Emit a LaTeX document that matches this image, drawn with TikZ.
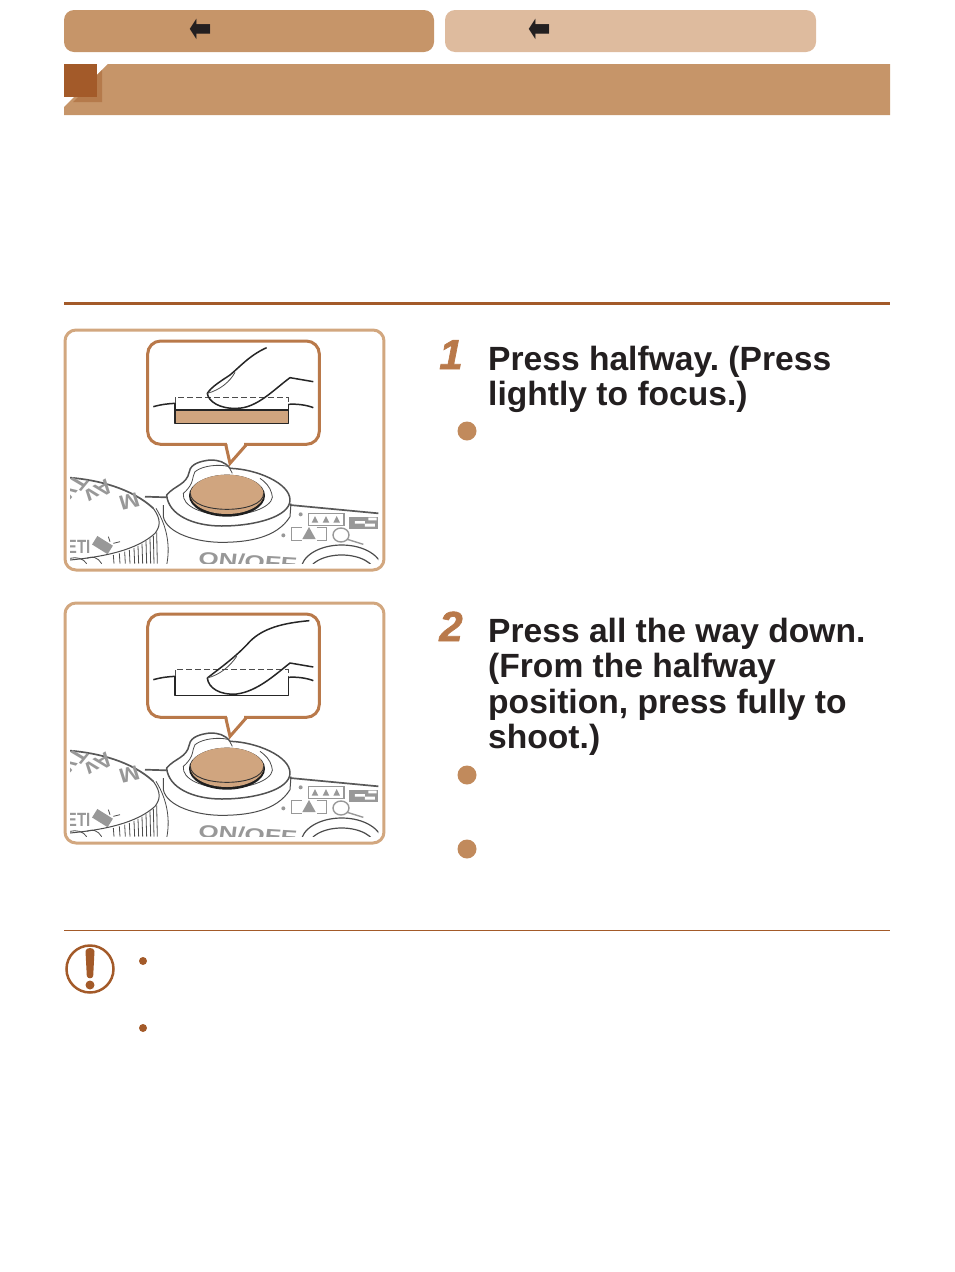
\documentclass[tikz,border=0pt]{standalone}
\usepackage{fontspec}
\setmainfont{Liberation Sans}
\newfontfamily\arrowfont{DejaVu Sans}
\newfontfamily\numfont[BoldItalicFeatures={FakeBold=1.6}]{Liberation Sans}
\definecolor{tabdark}{HTML}{C69569}
\definecolor{tablight}{HTML}{DEBB9E}
\definecolor{rust}{HTML}{A35A29}
\definecolor{shadowbrown}{HTML}{B57A4B}
\definecolor{frameline}{HTML}{D2A77F}
\definecolor{calloutline}{HTML}{B9794A}
\definecolor{buttontan}{HTML}{D0A57F}
\definecolor{bulletcol}{HTML}{C18A5C}
\definecolor{inktext}{HTML}{231F20}
\definecolor{printgray}{HTML}{989898}
\tikzset{
  tabshape/.style={rounded corners=10pt},
  backarrow/.style={text=inktext,inner sep=0pt,yscale=1.55,font=\arrowfont\fontsize{27}{27}\selectfont},
  steptitle/.style={anchor=north west,align=left,inner sep=0pt,text=inktext,
    font=\fontsize{33.6}{35.5}\selectfont\bfseries},
  stepnum/.style={anchor=base,inner sep=0pt,text=calloutline,
    font=\numfont\fontsize{42}{42}\selectfont\bfseries\itshape},
  dialtext/.style={text=printgray,inner sep=0pt,yscale=0.85,font=\fontsize{24}{24}\selectfont\bfseries},
  inkline/.style={draw=black!85,line width=1.5pt,line join=round},
  thinline/.style={draw=black!70,line width=0.8pt},
  grayline/.style={draw=black!65,line width=1.7pt},
  ringline/.style={draw=black!68,line width=1.5pt,line join=round},
  iconline/.style={draw=printgray,line width=1.4pt}
}
\begin{document}
\begin{tikzpicture}[x=1pt,y=-1pt]
  \useasboundingbox (0,0) rectangle (954,1272);
  \newcommand{\bandtop}{64}
  \newcommand{\bandbot}{115}
  % the whole camera panel, in units of a third of a pixel
  \newcommand{\camerapanel}{
    \draw[frameline,line width=3pt,rounded corners=11pt,fill=white] (15,15) rectangle (972,735);
    \begin{scope}
      \clip (30,30) rectangle (955,716);
      \draw[grayline] (30,458) .. controls (115,465) and (215,490) .. (280,550);
      \draw[thinline,line width=1pt] (280,550) .. controls (305,585) and (300,605) .. (285,625)
        .. controls (230,675) and (135,695) .. (30,705);
      \draw[thinline] (288,550) .. controls (325,610) and (330,670) .. (320,720);
      \foreach \x/\y in {290/622,280/632,270/640,258/648,246/656,234/663,222/669,208/675,194/680,178/685,160/690}
        \draw[thinline] (\x,\y) -- (\x+2,716);
      \draw[thinline] (30,700) .. controls (50,695) and (70,700) .. (80,716) (80,700) .. controls (95,692) and (115,697) .. (125,716);
      \draw[grayline] (255,515) -- (320,517);
      \draw[grayline] (690,540) -- (955,565);
      % dial marks
      \node[dialtext,rotate=235] (tvmark) at (44,488) {Tv};
      \node[dialtext,rotate=215] (avmark) at (116,500) {Av};
      \node[dialtext,rotate=195] (mmark) at (208,528) {M};
      \node[dialtext,yscale=1.5,font=\fontsize{15}{15}\selectfont\bfseries] (etmark) at (56,665) {ETI};
      \fill[printgray,rotate around={-32:(127,660)}] (100,645) rectangle (155,675);
      \draw[thinline] (145,635) -- (150,650) (160,655) -- (180,650);
      % icons on the top plate
      \fill[printgray] (722,568) circle (6);
      \draw[iconline] (745,565) rectangle (852,602);
      \foreach \x in {765,798,830}
        \fill[printgray] (\x-10,593) -- (\x,573) -- (\x+10,593) -- cycle;
      \fill[printgray] (868,575) rectangle (955,612);
      \fill[white] (885,588) rectangle (915,596) (915,596) rectangle (945,605) (925,578) rectangle (950,586);
      \fill[printgray] (670,631) circle (6);
      \draw[iconline] (725,608) -- (695,608) -- (695,646) -- (725,646) (770,608) -- (800,608) -- (800,646) -- (770,646);
      \fill[printgray] (727,642) -- (747,606) -- (767,642) -- cycle;
      \draw[iconline] (843,630) ellipse (24 and 21);
      \draw[iconline] (862,643) -- (910,658);
      \node[dialtext,anchor=base west,xscale=1.3,yscale=1.05,rotate=-5,font=\fontsize{20}{20}\selectfont\bfseries] (onoffmark) at (413,718) {ON/OFF};
      \draw[thinline,line width=1.2pt] (845,735) ellipse (122 and 75);
      \draw[thinline,line width=1.2pt] (845,745) ellipse (100 and 55);
    \end{scope}
    % shutter ring and button
    \draw[thinline,line width=1pt] (310,540) -- (310,575) .. controls (320,625) and (410,652) .. (485,652) .. controls (560,652) and (650,640) .. (690,575) -- (693,535);
    \draw[ringline,fill=white] (320,510) .. controls (345,480) and (380,480) .. (388,440)
      .. controls (392,415) and (425,408) .. (450,405) .. controls (475,405) and (495,410) .. (510,430)
      .. controls (590,432) and (690,475) .. (690,525) .. controls (690,575) and (585,603) .. (485,603)
      .. controls (400,603) and (325,570) .. (320,510) -- cycle;
    \draw[thinline] (510,432) -- (517,445) (503,424) .. controls (480,418) and (430,420) .. (405,440) .. controls (395,455) and (405,475) .. (370,505)
      .. controls (365,545) and (430,570) .. (500,570) .. controls (590,570) and (650,535) .. (635,505) .. controls (630,485) and (615,470) .. (600,460);
    \fill[black!88] (501,512) ellipse (114 and 63);
    \fill[buttontan] (501,508) ellipse (110 and 59);
    \draw[black!80,line width=0.9pt] (391,505) .. controls (391,569) and (611,569) .. (611,505);
    % callout
    \draw[calloutline,line width=3pt,rounded corners=13pt,fill=white] (263,48) rectangle (778,358);
    \fill[white] (501,350) -- (552,350) -- (552,368) -- (503,368) -- cycle;
    \draw[calloutline,line width=3pt,line join=miter] (497,358) -- (510,415) -- (560,358);
    \draw[inkline] (280,245) .. controls (305,238) and (325,236) .. (345,235);
    \draw[inkline] (685,238) .. controls (710,236) and (740,240) .. (760,248);
  }
  \fill[tabdark,tabshape] (64,10) rectangle (434,52);
  \fill[tablight,tabshape] (445,10) rectangle (816,52);
  \node[backarrow] (backone) at (201,31) {⬅};
  \node[backarrow] (backtwo) at (540,31) {⬅};
  \fill[tabdark] (108,\bandtop) -- (890,\bandtop) -- (890,\bandbot) -- (64,\bandbot) -- (64,107) -- cycle;
  \fill[shadowbrown] (97,75) -- (102,70) -- (102,102) -- (73,102) -- (78,97) -- cycle;
  \fill[rust] (64,\bandtop) rectangle (97,97);
  \draw[rust,line width=3pt] (64,303) -- (890,303);
  \begin{scope}[shift={(60,325)},x=1/3*1pt,y=-1/3*1pt]
    \camerapanel
    \fill[buttontan] (345,255) rectangle (685,295);
    \draw[inkline] (345,235) -- (345,295) -- (685,295) -- (685,238) (345,255) -- (685,255);
    \draw[thinline,dashed,dash pattern=on 6pt off 3pt] (345,235) -- (345,218) -- (685,218) -- (685,238);
    \draw[inkline] (620,68) .. controls (570,90) and (540,125) .. (510,150) .. controls (480,170) and (455,185) .. (442,205)
      .. controls (445,230) and (480,252) .. (530,250) .. controls (590,250) and (640,195) .. (690,158) -- (760,170);
    \draw[thinline] (442,205) .. controls (480,195) and (510,170) .. (525,142);
  \end{scope}
  \begin{scope}[shift={(60,598)},x=1/3*1pt,y=-1/3*1pt]
    \camerapanel
    \draw[inkline] (345,235) -- (345,292) -- (685,292) -- (685,238);
    \draw[thinline,dashed,dash pattern=on 6pt off 3pt] (345,235) -- (345,215) -- (685,215) -- (685,238);
    \draw[inkline] (748,68) .. controls (670,75) and (610,90) .. (570,130) .. controls (530,175) and (480,210) .. (442,240)
      .. controls (445,270) and (480,292) .. (530,288) .. controls (590,280) and (640,235) .. (690,195) -- (760,207);
    \draw[thinline] (442,240) .. controls (480,230) and (510,205) .. (530,175);
  \end{scope}
  \node[stepnum] (numone) at (451,369) {1};
  \node[stepnum] (numtwo) at (451,641) {2};
  \node[steptitle] (titleone) at (488,345.5) {Press halfway.\kern0pt\ (Press\\lightly to focus.)};
  \node[steptitle] (titletwo) at (488,617.5) {Press all the way down.\\(From the halfway\\position, press fully to\\shoot.)};
  \fill[bulletcol] (467,431) circle (9.5) (467,775) circle (9.5) (467,849) circle (9.5);
  \draw[rust,line width=1pt] (64,930.5) -- (890,930.5);
  \draw[rust,line width=2.5pt] (90,969) circle (23.5);
  \fill[rust] (85.5,951) .. controls (86,947) and (94,947) .. (94.5,951) -- (93.2,976) .. controls (92.5,979) and (87.5,979) .. (86.8,976) -- cycle;
  \fill[rust] (90,985) circle (4.5);
  \fill[rust] (143,961) circle (4) (143,1028) circle (4);
\end{tikzpicture}
\end{document}
